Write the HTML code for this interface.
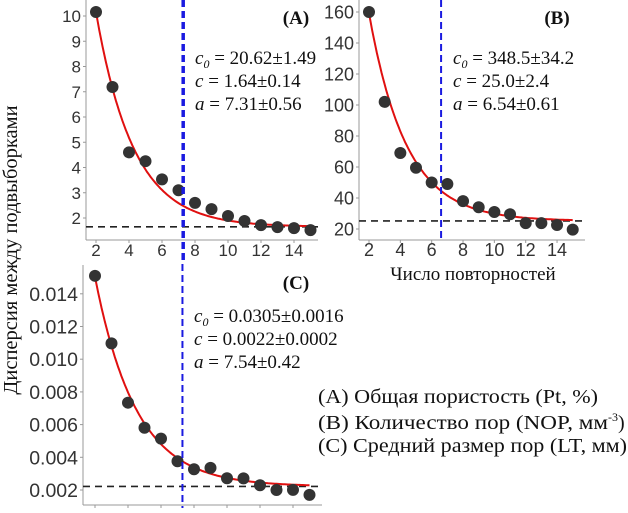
<!DOCTYPE html>
<html><head><meta charset="utf-8"><style>
body{margin:0;background:#fff;}
svg text{font-family:"Liberation Sans",sans-serif;}
.t{fill:#333;}
.s{font-family:"Liberation Serif",serif !important;fill:#111;}
</style></head><body>
<svg id="c" width="628" height="508" xmlns="http://www.w3.org/2000/svg">
<text class="s" font-size="20.5" transform="translate(17,250) rotate(-90)" text-anchor="middle">Дисперсия между подвыборками</text>
<text class="s" font-size="19" x="473" y="280" text-anchor="middle">Число повторностей</text>
<text class="s" font-size="20" x="318" y="403" textLength="280" lengthAdjust="spacingAndGlyphs">(A) Общая пористость (Pt, %)</text>
<text class="s" font-size="20" x="318" y="429"><tspan textLength="290" lengthAdjust="spacingAndGlyphs">(B) Количество пор (NOP, мм</tspan><tspan font-size="12" dy="-8">-3</tspan><tspan dy="8">)</tspan></text>
<text class="s" font-size="20" x="318" y="452" textLength="309" lengthAdjust="spacingAndGlyphs">(C) Средний размер пор (LT, мм)</text>
</svg>
<script>
const xs=[2,3,4,5,6,7,8,9,10,11,12,13,14,15];
const valsA=[10.16,7.19,4.6,4.25,3.53,3.1,2.6,2.35,2.08,1.88,1.72,1.64,1.6,1.52];
const valsB=[160,102,69,59.5,50,49,38,34,31,29.5,23.8,23.8,22.6,19.6];
const valsC=[0.0151,0.01097,0.00734,0.00581,0.00514,0.00376,0.00327,0.00335,0.00272,0.00271,0.00229,0.002,0.00201,0.0017];
const ticksA=[2,3,4,5,6,7,8,9,10];
const ticksB=[20,40,60,80,100,120,140,160];
const ticksC=[0.002,0.004,0.006,0.008,0.010,0.012,0.014];
const xTicks=[2,4,6,8,10,12,14];
const fitA=[8.5,1.65,0.44], fitB=[134,25.2,0.42], fitC=[0.0128,0.00222,0.40];
const vlineA=7.33, vlineB=6.6, vlineC=7.3;
const paramsA=["20.62±1.49","1.64±0.14","7.31±0.56"];
const paramsB=["348.5±34.2","25.0±2.4","6.54±0.61"];
const paramsC=["0.0305±0.0016","0.0022±0.0002","7.54±0.42"];
const svg=document.getElementById('c');
const NS="http://www.w3.org/2000/svg";
function mk(t,a){const e=document.createElementNS(NS,t);for(const k in a)e.setAttribute(k,a[k]);svg.appendChild(e);return e;}
function panel(p){
 const X=v=>p.x2+(v-2)*p.dx, Y=v=>p.y0-(v-p.v0)*p.dy;
 let e=mk('line',{x1:p.ax,y1:p.top,x2:p.ax,y2:p.bot,stroke:'#999','stroke-width':1});
 
 e=mk('line',{x1:p.ax,y1:p.bot,x2:p.right,y2:p.bot,stroke:'#999','stroke-width':1});
 
 p.yt.forEach(v=>{
  const t=mk('text',{x:p.ax-5,y:Y(v)+p.fs*0.36,'text-anchor':'end',class:'t','font-size':p.fs});t.textContent=p.fmt(v);
  
  mk('line',{x1:p.ax-3,x2:p.ax,y1:Y(v),y2:Y(v),stroke:'#999'});
 });
 xTicks.forEach(v=>{
  mk('line',{x1:X(v),x2:X(v),y1:p.bot,y2:p.bot+3,stroke:'#999'});
  if(p.xl){const t=mk('text',{x:X(v),y:p.bot+16,'text-anchor':'middle',class:'t','font-size':p.fs});t.textContent=v;
  }
 });
 e=mk('line',{x1:p.ax,x2:p.right,y1:Y(p.fit[1]),y2:Y(p.fit[1]),stroke:'#222','stroke-width':1.6,'stroke-dasharray':'7,5'});
 
 let d='';for(let x=2;x<=15.001;x+=0.1){const v=p.fit[1]+p.fit[0]*Math.exp(-p.fit[2]*(x-2));d+=(d?'L':'M')+X(x).toFixed(1)+','+Y(v).toFixed(1);}
 e=mk('path',{d:d,fill:'none',stroke:'#e01010','stroke-width':2});
 
 p.vals.forEach((v,i)=>{const c=mk('circle',{cx:X(xs[i]),cy:Y(v),r:6,fill:'#333'});
  });
 e=mk('line',{x1:X(p.vl),x2:X(p.vl),y1:0,y2:p.vbot,stroke:'#1a1ae0','stroke-width':2,'stroke-dasharray':'7,4'});
 
 e=mk('text',{x:p.lx,y:p.ly,'font-size':19,'font-weight':'bold',class:'s','text-anchor':'middle'});e.textContent='('+p.id.toUpperCase()+')';
 
 const lbl=['c','c','a'];
 p.pr.forEach((s,i)=>{const t=mk('text',{x:p.px,y:p.py+i*23,'font-size':19,class:'s'});
  t.innerHTML='<tspan font-style="italic">'+lbl[i]+'</tspan>'+(i==0?'<tspan font-style="italic" font-size="12" dy="4">0</tspan><tspan dy="-4"> = </tspan>':' = ')+s;
  });
}
panel({id:'a',fs:17,x2:96,dx:16.5,y0:218,v0:2,dy:25.25,ax:86,top:0,bot:240,right:318,yt:ticksA,fmt:v=>v,xl:true,vals:valsA,fit:fitA,vl:vlineA,vbot:262,lx:296,ly:24,px:195,py:64,pr:paramsA});
panel({id:'b',fs:18,x2:369,dx:15.67,y0:229,v0:20,dy:31/20,ax:359,top:0,bot:240,right:585,yt:ticksB,fmt:v=>v,xl:true,vals:valsB,fit:fitB,vl:vlineB,vbot:240,lx:557,ly:24,px:453,py:64,pr:paramsB});
panel({id:'c',fs:19.5,x2:95,dx:16.5,y0:490,v0:0.002,dy:16350,ax:83,top:265,bot:505,right:322,yt:ticksC,fmt:v=>v.toFixed(3),xl:false,vals:valsC,fit:fitC,vl:vlineC,vbot:508,lx:296,ly:289,px:194,py:322,pr:paramsC});
</script>
</body></html>
